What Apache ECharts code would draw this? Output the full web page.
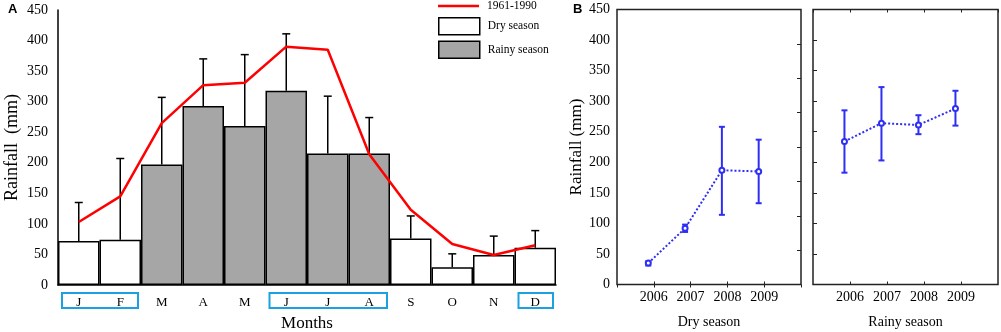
<!DOCTYPE html>
<html>
<head>
<meta charset="utf-8" />
<title>Rainfall</title>
<style>
  html, body { margin: 0; padding: 0; background: #fff; }
  #main { width: 1001px; height: 332px; }
</style>
</head>
<body>
<div id="main"></div>
<script src="https://cdn.jsdelivr.net/npm/echarts@6/dist/echarts.min.js"></script>
<script>
// panel A: monthly rainfall
const months = ['J', 'F', 'M', 'A', 'M', 'J', 'J', 'A', 'S', 'O', 'N', 'D'];
const isRainy = [false, false, true, true, true, true, true, true, false, false, false, false];
const monthMean = [72, 74, 197, 293, 260, 318, 215, 215, 76, 29, 49, 61];
const monthErrTop = [135, 207, 307, 370, 377, 411, 309, 274, 113, 51, 80, 89];
const normal6190 = [103, 145, 265, 327, 331, 390, 385, 214, 123, 67, 49, 65];
const monthGroups = [[0, 1], [5, 7], [11, 11]]; // boxed month labels

// panel B: seasonal means per year
const years = [2006, 2007, 2008, 2009];
const dryMean = [35, 92, 187, 185];
const dryLow = [31, 86, 114, 133];
const dryHigh = [38, 98, 258, 237];
const rainyMean = [234, 264, 261, 288];
const rainyLow = [183, 203, 246, 260];
const rainyHigh = [285, 323, 277, 317];

const SERIF = 'Liberation Serif';
const BLUE = '#2e2ef5';
const yearShift = -0.15; // points sit a little left of the year ticks

const txt = (size) => ({ fontFamily: SERIF, fontSize: size, color: '#000' });

function monthErrBar(params, api) {
  const p0 = api.coord([api.value(0), api.value(1)]);
  const p1 = api.coord([api.value(0), api.value(2)]);
  const st = { stroke: '#000', lineWidth: 1.5 };
  return {
    type: 'group',
    children: [
      { type: 'line', shape: { x1: p0[0], y1: p0[1], x2: p1[0], y2: p1[1] }, style: st },
      { type: 'line', shape: { x1: p1[0] - 4, y1: p1[1], x2: p1[0] + 4, y2: p1[1] }, style: st },
    ],
  };
}

function groupBox(params, api) {
  const bw = api.size([1, 0])[0];
  const x0 = api.coord([api.value(0), 0])[0] - bw / 2 + 4;
  const x1 = api.coord([api.value(1), 0])[0] + bw / 2 - 3;
  const y0 = api.coord([0, 0])[1];
  return {
    type: 'rect',
    shape: { x: x0, y: y0 + 8, width: x1 - x0, height: 15 },
    style: { fill: 'none', stroke: '#1ba1e2', lineWidth: 2 },
  };
}

function yearErrBar(params, api) {
  const lo = api.coord([api.value(0), api.value(1)]);
  const hi = api.coord([api.value(0), api.value(2)]);
  const st = { stroke: BLUE, lineWidth: 2 };
  return {
    type: 'group',
    children: [
      { type: 'line', shape: { x1: lo[0], y1: lo[1], x2: hi[0], y2: hi[1] }, style: st },
      { type: 'line', shape: { x1: lo[0] - 3, y1: lo[1], x2: lo[0] + 3, y2: lo[1] }, style: st },
      { type: 'line', shape: { x1: hi[0] - 3, y1: hi[1], x2: hi[0] + 3, y2: hi[1] }, style: st },
    ],
  };
}

const yearAxis = (grid, pos, labels, name) => ({
  type: 'value', gridIndex: grid, position: pos, min: 2005, max: 2010, interval: 1,
  axisLine: { show: false },
  axisTick: { show: true, inside: true, length: 3, lineStyle: { color: '#222', width: 1 } },
  axisLabel: {
    show: labels, margin: 6, ...txt(14), showMinLabel: false, showMaxLabel: false,
    formatter: (v) => String(v),
  },
  splitLine: { show: false },
  name: name, nameLocation: 'middle', nameGap: 31, nameTextStyle: txt(14),
});

const rainAxis = (grid, labels, ticks, name) => ({
  type: 'value', gridIndex: grid, min: 0, max: 450, interval: 50,
  axisLine: { show: false },
  axisTick: { show: ticks, inside: true, length: 4, lineStyle: { color: '#222', width: 1 } },
  axisLabel: { show: labels, margin: 7, ...txt(14) },
  splitLine: { show: false },
  name: name, nameLocation: 'middle', nameGap: 32, nameTextStyle: txt(17),
});

const option = {
  backgroundColor: '#fff',
  animation: false,
  title: [
    { text: 'A', left: 8, top: 3, padding: 0, textStyle: { fontFamily: 'Liberation Sans', fontSize: 13, fontWeight: 'bold', color: '#000' } },
    { text: 'B', left: 573, top: 3, padding: 0, textStyle: { fontFamily: 'Liberation Sans', fontSize: 13, fontWeight: 'bold', color: '#000' } },
  ],
  legend: [
    {
      data: ['1961-1990'], left: 438, top: 0, padding: 0, orient: 'vertical',
      icon: 'rect', itemWidth: 41, itemHeight: 2.5,
      textStyle: { ...txt(11.5), padding: [0, 0, 0, 3] },
    },
    {
      data: ['Dry season', 'Rainy season'], left: 438, top: 17, padding: 0, orient: 'vertical',
      itemWidth: 41, itemHeight: 17, itemGap: 5, icon: 'rect',
      itemStyle: { borderColor: '#000', borderWidth: 1.5 },
      textStyle: { ...txt(11.5), padding: [0, 0, 0, 3] },
    },
  ],
  grid: [
    { left: 58, top: 10, width: 498, height: 275, outerBoundsMode: 'none' },
    { left: 617, top: 9.5, width: 184, height: 275, outerBoundsMode: 'none', show: true, borderColor: '#222', borderWidth: 1.5, backgroundColor: 'transparent' },
    { left: 813, top: 9.5, width: 185, height: 275, outerBoundsMode: 'none', show: true, borderColor: '#222', borderWidth: 1.5, backgroundColor: 'transparent' },
  ],
  xAxis: [
    {
      type: 'category', gridIndex: 0, data: months.map((m, i) => String(i)),
      axisLine: { lineStyle: { color: '#000', width: 1.5 } },
      axisTick: { show: false },
      axisLabel: { margin: 11, ...txt(13), formatter: (v, i) => months[i] },
      name: 'Months', nameLocation: 'middle', nameGap: 30, nameTextStyle: txt(17),
    },
    yearAxis(1, 'bottom', true, 'Dry season'),
    yearAxis(1, 'top', false, ''),
    yearAxis(2, 'bottom', true, 'Rainy season'),
    yearAxis(2, 'top', false, ''),
  ],
  yAxis: [
    {
      type: 'value', gridIndex: 0, min: 0, max: 450, interval: 50,
      axisLine: { show: true, lineStyle: { color: '#000', width: 1.5 } },
      axisTick: { show: false },
      axisLabel: { margin: 10, ...txt(14) },
      splitLine: { show: false },
      name: 'Rainfall  (mm)', nameLocation: 'middle', nameGap: 37, nameTextStyle: txt(18),
    },
    rainAxis(1, true, false, 'Rainfall (mm)'),
    {
      type: 'value', gridIndex: 1, position: 'right', min: 0, max: 8, interval: 1,
      axisLine: { show: false },
      axisTick: { show: true, inside: true, length: 4, lineStyle: { color: '#222', width: 1 } },
      axisLabel: { show: false }, splitLine: { show: false },
    },
    rainAxis(2, false, true, ''),
  ],
  series: [
    {
      name: 'Dry season', type: 'bar', xAxisIndex: 0, yAxisIndex: 0,
      barWidth: '100%', barGap: '-100%',
      data: monthMean.map((v, i) => (isRainy[i] ? '-' : v)),
      itemStyle: { color: '#fff', borderColor: '#000', borderWidth: 1.5 },
    },
    {
      name: 'Rainy season', type: 'bar', xAxisIndex: 0, yAxisIndex: 0,
      barWidth: '100%', barGap: '-100%',
      data: monthMean.map((v, i) => (isRainy[i] ? v : '-')),
      itemStyle: { color: '#a6a6a6', borderColor: '#000', borderWidth: 1.5 },
    },
    {
      name: 'errA', type: 'custom', xAxisIndex: 0, yAxisIndex: 0, z: 3,
      renderItem: monthErrBar,
      data: monthMean.map((v, i) => [i, v, monthErrTop[i]]),
    },
    {
      name: '1961-1990', type: 'line', xAxisIndex: 0, yAxisIndex: 0, z: 4,
      symbol: 'none', data: normal6190,
      itemStyle: { color: '#ff0000' },
      lineStyle: { color: '#ff0000', width: 2.5 },
    },
    {
      name: 'groups', type: 'custom', xAxisIndex: 0, yAxisIndex: 0, clip: false,
      renderItem: groupBox, data: monthGroups,
    },
    {
      name: 'errDry', type: 'custom', xAxisIndex: 1, yAxisIndex: 1, z: 2,
      renderItem: yearErrBar,
      data: years.map((y, i) => [y + yearShift, dryLow[i], dryHigh[i]]),
    },
    {
      name: 'dry', type: 'line', xAxisIndex: 1, yAxisIndex: 1, z: 3,
      symbol: 'emptyCircle', symbolSize: 5,
      data: years.map((y, i) => [y + yearShift, dryMean[i]]),
      itemStyle: { color: BLUE, borderWidth: 1.5 },
      lineStyle: { color: BLUE, width: 2, type: 'dotted' },
    },
    {
      name: 'errRainy', type: 'custom', xAxisIndex: 3, yAxisIndex: 3, z: 2,
      renderItem: yearErrBar,
      data: years.map((y, i) => [y + yearShift, rainyLow[i], rainyHigh[i]]),
    },
    {
      name: 'rainy', type: 'line', xAxisIndex: 3, yAxisIndex: 3, z: 3,
      symbol: 'emptyCircle', symbolSize: 5,
      data: years.map((y, i) => [y + yearShift, rainyMean[i]]),
      itemStyle: { color: BLUE, borderWidth: 1.5 },
      lineStyle: { color: BLUE, width: 2, type: 'dotted' },
    },
  ],
};

const chart = echarts.init(document.getElementById('main'));
chart.setOption(option);
</script>
</body>
</html>
